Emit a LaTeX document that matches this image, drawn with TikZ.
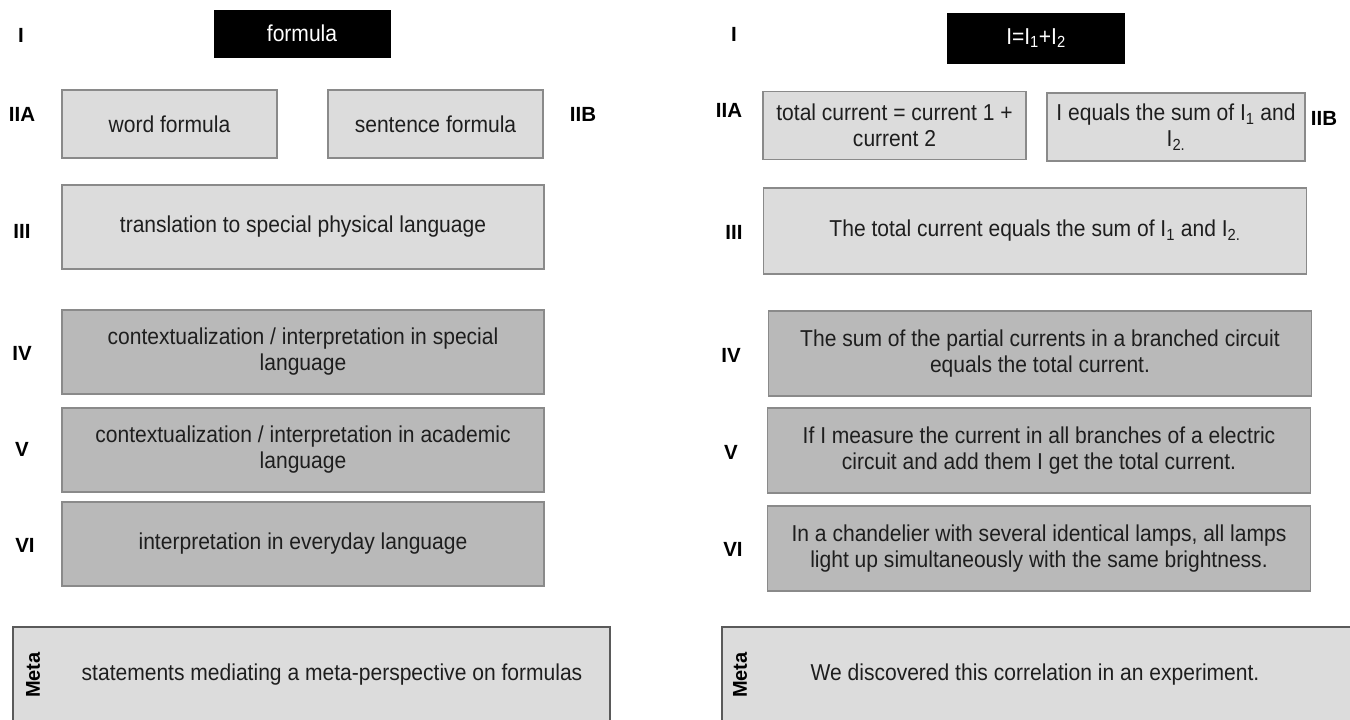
\documentclass[tikz,border=0pt]{standalone}
\usepackage{fontspec}
\setmainfont{Liberation Sans}
\newfontfamily\bodyfont[FakeStretch=0.915]{Liberation Sans}
\definecolor{light}{HTML}{DCDCDC}
\definecolor{mid}{HTML}{B9B9B9}
\definecolor{edge}{HTML}{8A8A8A}
\definecolor{metaedge}{HTML}{5A5A5A}
\definecolor{txt}{HTML}{1E1E1E}
\tikzset{
  base/.style={draw=edge, line width=1.2pt, inner sep=0pt, align=center, text=txt,
    font=\bodyfont\fontsize{23}{26}\selectfont},
  lbox/.style={base, fill=light},
  dbox/.style={base, fill=mid},
  blk/.style={fill=black, draw=black, inner sep=0pt, text=white, font=\bodyfont\fontsize{23}{26}\selectfont},
  lvl/.style={font=\bfseries\fontsize{20.5}{22}\selectfont, inner sep=0pt, text=black},
  metalbl/.style={font=\bfseries\fontsize{20}{22}\selectfont, inner sep=0pt, text=black, rotate=90},
  metabox/.style={draw=metaedge, line width=1.2pt, fill=light},
  metatxt/.style={font=\bodyfont\fontsize{23}{26}\selectfont, text=txt, inner sep=0pt}
}
\begin{document}
\begin{tikzpicture}[x=1pt,y=-1pt]
\useasboundingbox (0,0) rectangle (1350,720);
\clip (0,0) rectangle (1350,720);
\fill[white] (0,0) rectangle (1350,720);

% ---------- left column ----------
\node[lvl] (lI) at (21,35) {I};
\node[blk, minimum width=176pt, minimum height=47pt] (lf) at (302,33.5) {formula};
\node[lvl] (lIIA) at (22,114) {IIA};
\node[lbox, minimum width=215pt, minimum height=68pt] (lwa) at (169.5,124) {word formula};
\node[lbox, minimum width=215pt, minimum height=68pt] (lwb) at (435.5,124) {sentence formula};
\node[lvl] (lIIB) at (583,114) {IIB};
\node[lvl] (lIII) at (22,231) {III};
\node[lbox, minimum width=482pt, minimum height=84pt] (l3) at (303,227) {translation to special physical language};
\node[lvl] (lIV) at (22,353) {IV};
\node[dbox, minimum width=482pt, minimum height=84pt] (l4) at (303,352) {contextualization / interpretation in special\\language};
\node[lvl] (lV) at (22,449.5) {V};
\node[dbox, minimum width=482pt, minimum height=84pt] (l5) at (303,450) {contextualization / interpretation in academic\\language};
\node[lvl] (lVI) at (25,545) {VI};
\node[dbox, minimum width=482pt, minimum height=84pt] (l6) at (303,544) {interpretation in everyday language};
\draw[metabox] (13,627) rectangle (610,735);
\node[metalbl] (lmeta) at (33,675) {Meta};
\node[metatxt] (lmt) at (332,675) {statements mediating a meta-perspective on formulas};

% ---------- right column ----------
\node[lvl] (rI) at (734,34) {I};
\node[blk, minimum width=177pt, minimum height=50pt] (rf) at (1036,38) {I=I\textsubscript{1}+I\textsubscript{2}};
\node[lvl] (rIIA) at (729,110) {IIA};
\node[lbox, minimum width=263pt, minimum height=68pt] (rwa) at (894.5,125.5) {total current = current 1 +\\current 2};
\node[lbox, minimum width=258pt, minimum height=68pt] (rwb) at (1176,127) {I equals the sum of I\textsubscript{1} and\\I\textsubscript{2.}};
\node[lvl] (rIIB) at (1324,118) {IIB};
\node[lvl] (rIII) at (734,232) {III};
\node[lbox, minimum width=543pt, minimum height=86pt] (r3) at (1035,231) {The total current equals the sum of I\textsubscript{1} and I\textsubscript{2.}};
\node[lvl] (rIV) at (731,355) {IV};
\node[dbox, minimum width=543pt, minimum height=85pt] (r4) at (1040,353.5) {The sum of the partial currents in a branched circuit\\equals the total current.};
\node[lvl] (rV) at (731,452) {V};
\node[dbox, minimum width=543pt, minimum height=85pt] (r5) at (1039,450.5) {If I measure the current in all branches of a electric\\circuit and add them I get the total current.};
\node[lvl] (rVI) at (733,549) {VI};
\node[dbox, minimum width=543pt, minimum height=85pt] (r6) at (1039,548.5) {In a chandelier with several identical lamps, all lamps\\light up simultaneously with the same brightness.};
\draw[metabox] (722,627) rectangle (1360,735);
\node[metalbl] (rmeta) at (740,675) {Meta};
\node[metatxt] (rmt) at (1035,675) {We discovered this correlation in an experiment.};
\end{tikzpicture}
\end{document}
